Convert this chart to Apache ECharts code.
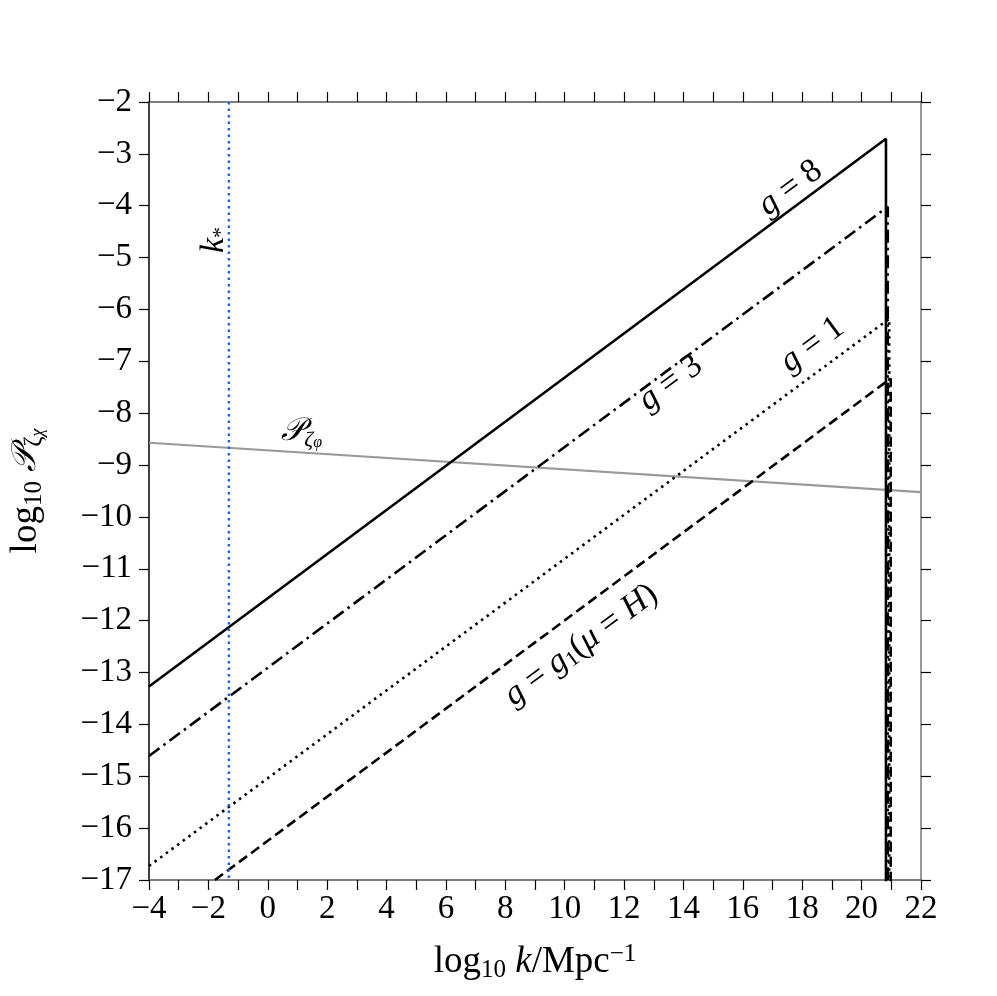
<!DOCTYPE html>
<html><head><meta charset="utf-8">
<script src="https://cdn.jsdelivr.net/npm/echarts@6/dist/echarts.min.js"></script>
<style>html,body{margin:0;padding:0;background:#fff}#c{width:997px;height:996px}</style>
</head><body><div id="c"></div>
<script>
// Data (log10 k, log10 P)
const g8X = [-4, 20.82, 20.82];
const g8Y = [-13.27, -2.71, -17.5];
const g3X = [-4, 20.88, 20.88];
const g3Y = [-14.61, -4.02, -17.5];
const g1X = [-4, 20.93, 20.93];
const g1Y = [-16.73, -6.18, -17.5];
const gHX = [-1.78, 20.98, 20.98];
const gHY = [-17, -7.33, -17.5];
const pPhiX = [-4, 22];
const pPhiY = [-8.57, -9.52];
const kStar = -1.31;
const kStarY = [-2, -17];
const xTicks = [-4, 22, 2];
const yTicks = [-17, -2, 1];

const font = 'Liberation Serif';
const pts = (xs, ys) => xs.map((x, i) => [x, ys[i]]);
const chart = echarts.init(document.getElementById('c'));
const tickStyle = {color: '#000', width: 1.2};
const axisCommon = {
  axisLine: {show: true, onZero: false, lineStyle: {color: '#000', width: 1.5}},
  axisTick: {show: true, inside: false, length: 10, lineStyle: tickStyle},
  splitLine: {show: false},
};
const fmt = v => (v < 0 ? '\u2212' + Math.abs(v) : '' + v);
const mk = (name, xs, ys, type, color, width) => ({
  name, type: 'line', data: pts(xs, ys), showSymbol: false, symbol: 'none',
  lineStyle: {color, width, type}, clip: true, animation: false
});
chart.setOption({
  animation: false,
  grid: {left: 147, right: 76, top: 102, bottom: 116},
  xAxis: [
    Object.assign({}, axisCommon, {
      type: 'value', min: xTicks[0], max: xTicks[1], interval: xTicks[2], position: 'bottom',
      axisLine: {show: true, onZero: false, lineStyle: {color: '#555', width: 1.5}},
      minorTick: {show: true, splitNumber: 2, length: 10, lineStyle: tickStyle},
      axisLabel: {fontFamily: font, fontSize: 33, color: '#000', margin: 13, formatter: fmt},
      name: '{t|log}{s|10}{t| }{i|k}{t|/Mpc}{u|\u22121}', nameLocation: 'middle', nameGap: 62,
      nameTextStyle: {rich: {
        t: {fontFamily: font, fontSize: 37, color: '#000'},
        i: {fontFamily: font, fontSize: 37, fontStyle: 'italic', color: '#000'},
        s: {fontFamily: font, fontSize: 25, color: '#000', verticalAlign: 'bottom', padding: [16, 0, 0, 0]},
        u: {fontFamily: font, fontSize: 25, color: '#000', verticalAlign: 'top', padding: [0, 0, 16, 0]}
      }}
    }),
    Object.assign({}, axisCommon, {
      type: 'value', min: xTicks[0], max: xTicks[1], interval: xTicks[2], position: 'top',
      axisLine: {show: true, onZero: false, lineStyle: {color: '#555', width: 1.5}},
      minorTick: {show: true, splitNumber: 2, length: 10, lineStyle: tickStyle},
      axisLabel: {show: false}
    })
  ],
  yAxis: [
    Object.assign({}, axisCommon, {
      type: 'value', min: yTicks[0], max: yTicks[1], interval: yTicks[2], position: 'left',
      axisLabel: {fontFamily: font, fontSize: 33, color: '#000', margin: 17, formatter: fmt},
      name: '{t|log}{s|10}{t| }{p|\ud835\udcab}{s|\u03b6}{ss|\u03c7}', nameLocation: 'middle', nameGap: 102, nameRotate: 90,
      nameTextStyle: {rich: {
        t: {fontFamily: font, fontSize: 37, color: '#000'},
        p: {fontFamily: 'DejaVu Sans', fontSize: 34, fontStyle: 'italic', color: '#000'},
        s: {fontFamily: font, fontSize: 25, color: '#000', verticalAlign: 'bottom', padding: [16, 0, 0, 0]},
        ss: {fontFamily: font, fontSize: 18, fontStyle: 'italic', color: '#000', verticalAlign: 'bottom', padding: [22, 0, 0, 0]}
      }}
    }),
    Object.assign({}, axisCommon, {
      type: 'value', min: yTicks[0], max: yTicks[1], interval: yTicks[2], position: 'right',
      axisLine: {show: true, onZero: false, lineStyle: {color: '#777', width: 1.5}},
      axisLabel: {show: false}
    })
  ],
  series: [
    mk('Pphi', pPhiX, pPhiY, 'solid', '#999', 2.2),
    mk('g8', g8X, g8Y, 'solid', '#000', 2.6),
    mk('g3', g3X, g3Y, [13, 5, 2.5, 5], '#000', 2.6),
    mk('g1', g1X, g1Y, [2.5, 4.5], '#000', 2.6),
    mk('gH', gHX, gHY, [10, 5], '#000', 2.6),
    mk('kstar', [kStar, kStar], kStarY, [2.5, 4], '#1f5bff', 2.4)
  ]
});

const P = (x, y) => chart.convertToPixel({xAxisIndex: 0, yAxisIndex: 0}, [x, y]);
const ang = 0.638;
const richStyle = {
  t: {fontFamily: font, fontSize: 34, color: '#000'},
  i: {fontFamily: font, fontSize: 34, fontStyle: 'italic', color: '#000'},
  s: {fontFamily: font, fontSize: 22, color: '#000', verticalAlign: 'bottom', padding: [14, 0, 0, 0]},
  si: {fontFamily: font, fontSize: 22, fontStyle: 'italic', color: '#000', verticalAlign: 'bottom', padding: [14, 0, 0, 0]},
  ss: {fontFamily: font, fontSize: 16, fontStyle: 'italic', color: '#000', verticalAlign: 'bottom', padding: [22, 0, 0, 0]},
  p: {fontFamily: 'DejaVu Sans', fontSize: 32, fontStyle: 'italic', color: '#000'},
  u: {fontFamily: font, fontSize: 22, color: '#000', verticalAlign: 'top', padding: [0, 0, 12, 0]}
};
const label = (x, y, text, rot) => {
  const p = P(x, y);
  return {type: 'text', x: p[0], y: p[1], rotation: rot, z: 10,
    style: {text, rich: richStyle, align: 'center', verticalAlign: 'middle', fill: '#000'}};
};
chart.setOption({graphic: [
  label(17.6, -3.66, '{i|g}{t| = 8}', ang),
  label(13.57, -7.42, '{i|g}{t| = 3}', ang),
  label(18.34, -6.68, '{i|g}{t| = 1}', ang),
  label(10.55, -12.47, '{i|g}{t| = }{i|g}{s|1}{t|(}{i|\u03bc}{t| = }{i|H}{t|)}', ang),
  label(1.14, -8.36, '{p|\ud835\udcab}{si|\u03b6}{ss|\u03c6}', 0),
  label(-1.82, -4.66, '{i|k}{s|*}', Math.PI / 2)
]});
</script>
</body></html>
